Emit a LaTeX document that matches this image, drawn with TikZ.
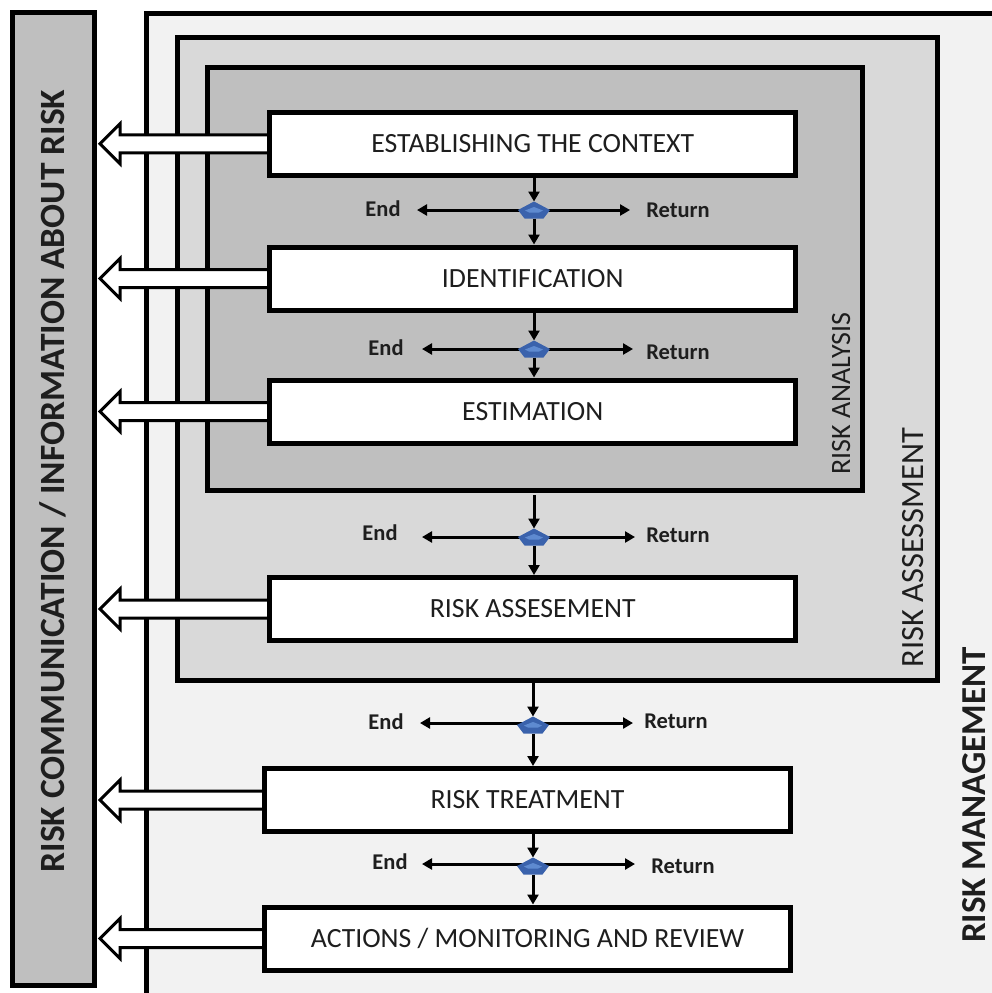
\documentclass[tikz,border=0pt]{standalone}
\usepackage{fontspec}
\setmainfont{Carlito}
\usetikzlibrary{arrows.meta,calc}

\definecolor{mgmtfill}{HTML}{F2F2F2}
\definecolor{assessfill}{HTML}{D9D9D9}
\definecolor{analysisfill}{HTML}{BFBFBF}
\definecolor{gateblue}{HTML}{3A62AC}
\definecolor{gatelight}{HTML}{5E8AD0}
\definecolor{ink}{HTML}{1E1E1E}

% small blue pentagon drawn around a gate node
\newcommand\gatemark[1]{%
  \fill[gateblue] ([shift={(0,-8.5)}]#1.center) -- ([shift={(16,0)}]#1.center)
    -- ([shift={(9.5,8.5)}]#1.center) -- ([shift={(-9.5,8.5)}]#1.center)
    -- ([shift={(-16,0)}]#1.center) -- cycle;
  \fill[gatelight] ([shift={(0,-3)}]#1.center) -- ([shift={(9,0.5)}]#1.center)
    -- ([shift={(5,2.5)}]#1.center) -- ([shift={(-5,2.5)}]#1.center)
    -- ([shift={(-9,0.5)}]#1.center) -- cycle;
}

% hollow block arrow from a stage box to the communication bar
\newcommand\sendarrow[1]{%
  \draw[bigarrow] let \p1=(#1.west), \p2=(commbar.east) in
    (\x1,\y1+9pt) -- (\x2+26pt,\y1+9pt) -- (\x2+26pt,\y1+20pt)
    -- (\x2+6pt,\y1) -- (\x2+26pt,\y1-20pt) -- (\x2+26pt,\y1-9pt)
    -- (\x1,\y1-9pt) -- cycle;
}

\begin{document}
\begin{tikzpicture}[x=1pt,y=-1pt,
  frame/.style={draw, line width=5pt, inner sep=0pt, outer sep=0pt},
  stage/.style={draw, fill=white, line width=5pt, minimum width=526pt,
    minimum height=63pt, inner sep=0pt, outer sep=0pt, text=ink,
    font=\fontsize{27.8}{30}\selectfont, text height=17.5pt, text depth=0pt},
  gate/.style={rectangle, minimum width=32pt, minimum height=17pt,
    inner sep=0pt, outer sep=0pt},
  flow/.style={line width=3pt, -{Triangle[length=10pt,width=11pt]}},
  bigarrow/.style={draw, fill=white, line width=3pt, line join=miter},
  choice/.style={inner sep=0pt, text=ink, font=\bfseries\fontsize{22.5}{26}\selectfont},
  sidelabel/.style={rotate=90, anchor=base, inner sep=0pt, text=ink},
]
\useasboundingbox (0,0) rectangle (992,993);
\clip (0,0) rectangle (992,993);
\fill[white] (0,0) rectangle (992,993);

% risk management area, open to the right and bottom
\fill[mgmtfill] (146,13) rectangle (1010,1010);
\draw[line width=5pt] (146,1010) -- (146,13) -- (1010,13);

% nested assessment and analysis frames
\node[frame, fill=assessfill, minimum width=759.5pt, minimum height=643pt]
  (assessment) at (557.25,358.5) {};
\node[frame, fill=analysisfill, minimum width=654.5pt, minimum height=423pt]
  (analysis) at (534.75,278.5) {};

% communication bar on the left
\node[frame, fill=analysisfill, minimum width=81.5pt, minimum height=972.5pt]
  (commbar) at (53.25,498.75) {};

% stage boxes
\node[stage] (b1) at (532.75,143.75) {ESTABLISHING THE CONTEXT};
\node[stage] (b2) at (532.75,278.5) {IDENTIFICATION};
\node[stage] (b3) at (532.75,411.5) {ESTIMATION};
\node[stage] (b4) at (532.75,609) {RISK ASSESEMENT};
\node[stage] (b5) at (527.5,800) {RISK TREATMENT};
\node[stage] (b6) at (527.5,938.5) {ACTIONS / MONITORING AND REVIEW};

% block arrows towards the bar, then the box borders again over their roots
\foreach \b in {b1,b2,b3,b4,b5,b6} {\sendarrow{\b}}
\foreach \b in {b1,b2,b3,b4,b5,b6} {
  \draw[line width=5pt] (\b.south west) rectangle (\b.north east);
}

% decision gates
\node[gate] (g1) at (534,210) {};
\node[gate] (g2) at (534,349) {};
\node[gate] (g3) at (534,537) {};
\node[gate] (g4) at (533,725) {};
\node[gate] (g5) at (533,866) {};

% free ends of the End / Return arrows
\coordinate (l1) at (417,210); \coordinate (r1) at (630,210);
\coordinate (l2) at (422,349); \coordinate (r2) at (633,349);
\coordinate (l3) at (422,537); \coordinate (r3) at (635,537);
\coordinate (l4) at (420,723); \coordinate (r4) at (633,723);
\coordinate (l5) at (422,864); \coordinate (r5) at (635,864);

% vertical flow through the gates
\draw[flow] (b1.south -| g1) -- (g1.north);
\draw[flow, shorten >=2.5pt] (g1.south) -- (b2.north -| g1);
\draw[flow] (b2.south -| g2) -- (g2.north);
\draw[flow, shorten >=2.5pt] (g2.south) -- (b3.north -| g2);
\draw[flow, shorten <=5pt] (analysis.south -| g3) -- (g3.north);
\draw[flow, shorten >=2.5pt] (g3.south) -- (b4.north -| g3);
\draw[flow] (assessment.south -| g4) -- (g4.north);
\draw[flow, shorten >=2.5pt] (g4.south) -- (b5.north -| g4);
\draw[flow] (b5.south -| g5) -- (g5.north);
\draw[flow, shorten >=2.5pt] (g5.south) -- (b6.north -| g5);

% End / Return branches
\foreach \i in {1,...,5} {
  \draw[flow] (g\i.center |- l\i) -- (l\i);
  \draw[flow] (g\i.center |- r\i) -- (r\i);
}
\foreach \i in {1,...,5} {\gatemark{g\i}}

\node[choice] (e1) at (383,209) {End};
\node[choice] (t1) at (678,210) {Return};
\node[choice] (e2) at (386,348) {End};
\node[choice] (t2) at (678,352) {Return};
\node[choice] (e3) at (380,533) {End};
\node[choice] (t3) at (678,535) {Return};
\node[choice] (e4) at (386,722) {End};
\node[choice] (t4) at (676,721) {Return};
\node[choice] (e5) at (390,862) {End};
\node[choice] (t5) at (683,866) {Return};

% rotated frame labels
\node[sidelabel, font=\bfseries\fontsize{35.5}{40}\selectfont] (commlabel)
  at (64,481) {RISK COMMUNICATION / INFORMATION ABOUT RISK};
\node[sidelabel, font=\bfseries\fontsize{35}{40}\selectfont] (mgmtlabel)
  at (985,795) {RISK MANAGEMENT};
\node[sidelabel, font=\fontsize{32.5}{36}\selectfont] (assesslabel)
  at (923,547.5) {RISK ASSESSMENT};
\node[sidelabel, font=\fontsize{28}{32}\selectfont] (analysislabel)
  at (850,393.5) {RISK ANALYSIS};
\end{tikzpicture}
\end{document}
